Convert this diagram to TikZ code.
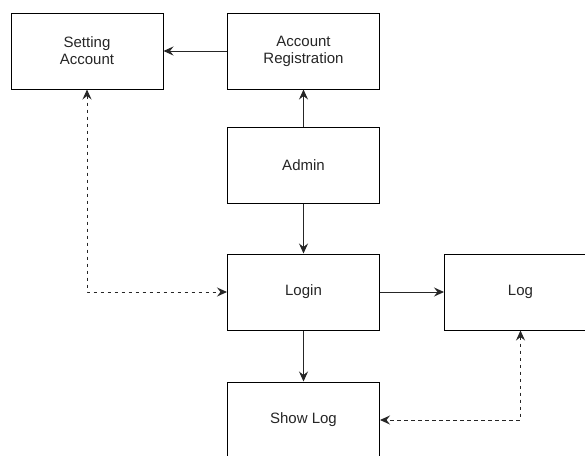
\documentclass[tikz,border=0pt]{standalone}
\usepackage{fontspec}
\setmainfont{Liberation Sans}
\usetikzlibrary{arrows.meta}
\begin{document}
\begin{tikzpicture}[x=1pt,y=-1pt,
  box/.style={draw=black,line width=1pt,minimum width=152pt,minimum height=76pt,
    inner sep=0pt,align=center,font=\fontsize{15}{17}\selectfont,text=black!85},
  conn/.style={line width=1pt,draw=black!85,-{Stealth[length=10pt,width=9pt,inset=3.5pt]}},
  dconn/.style={line width=1pt,draw=black!85,dash pattern=on 3.5pt off 3.5pt,
    {Stealth[length=10pt,width=9pt,inset=3.5pt]}-{Stealth[length=10pt,width=9pt,inset=3.5pt]}}]
\useasboundingbox (0,0) rectangle (585,455);
\clip (0,0) rectangle (585,455);
\fill[white] (0,0) rectangle (585,455);
\node[box] (sa) at (87,51) {Setting\\Account};
\node[box] (ar) at (303.5,51) {Account\\Registration};
\node[box] (admin) at (303.5,165) {Admin};
\node[box] (login) at (303.5,292) {Login};
\node[box] (log) at (520.5,292) {Log};
\node[box] (show) at (303.5,420) {Show Log};
\draw[conn] (ar) -- (sa);
\draw[conn] (admin) -- (ar);
\draw[conn] (admin) -- (login);
\draw[conn] (login) -- (log);
\draw[conn] (login) -- (show);
\draw[dconn] (sa.south) |- (login.west);
\draw[dconn] (log.south) |- (show.east);
\end{tikzpicture}
\end{document}
